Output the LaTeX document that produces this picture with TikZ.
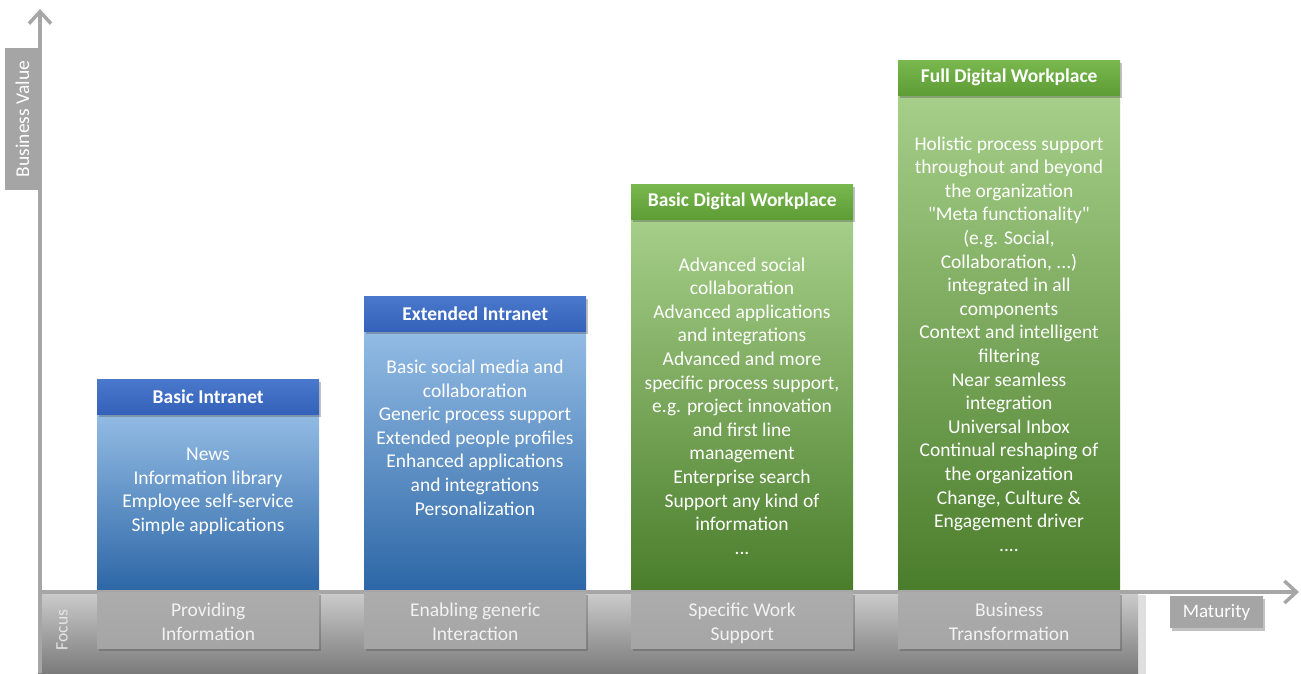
\documentclass[tikz,border=0pt]{standalone}
\usepackage{fontspec}
\setmainfont{Carlito}[Ligatures=TeXOff]
\usetikzlibrary{shadows,arrows.meta}
\definecolor{axisgray}{HTML}{A6A6A6}
\definecolor{boxgray}{HTML}{A5A5A5}
\definecolor{bluehtop}{HTML}{4A78CC}
\definecolor{bluehbot}{HTML}{3462BA}
\definecolor{bluetop}{HTML}{93BCE4}
\definecolor{bluebot}{HTML}{2C66A6}
\definecolor{greenhtop}{HTML}{78B84E}
\definecolor{greenhbot}{HTML}{5E9C35}
\definecolor{greentop}{HTML}{A6CF89}
\definecolor{greenbot}{HTML}{4A7D2B}
\tikzset{
  axisline/.style={draw=axisgray, line width=3.5pt, -{Straight Barb[length=12pt,width=22pt]}},
  lblbox/.style={fill=boxgray, text=white, inner sep=0pt, font=\fontsize{19.5}{23}\selectfont},
  shad/.style={drop shadow={shadow xshift=1.5pt, shadow yshift=-2.5pt, opacity=0.35, fill=black!70}},
  bluehead/.style={shad, anchor=north west, minimum width=222pt, minimum height=35pt, inner sep=0pt,
     top color=bluehtop, bottom color=bluehbot, text=white, font=\bfseries\fontsize{19.5}{23}\selectfont},
  greenhead/.style={bluehead, top color=greenhtop, bottom color=greenhbot},
  bluebody/.style={anchor=north west, minimum width=222pt, inner sep=0pt, top color=bluetop, bottom color=bluebot},
  greenbody/.style={bluebody, top color=greentop, bottom color=greenbot},
  bodytext/.style={text=white, align=center, inner sep=0pt, font=\fontsize{19.5}{23.6}\selectfont},
  focusbox/.style={shad, anchor=north west, minimum width=222pt, minimum height=56pt, inner sep=0pt,
     top color=boxgray!92!white, bottom color=boxgray},
  focustext/.style={text=white!95!black, align=center, inner sep=0pt, yshift=-3pt, font=\fontsize{19.5}{24}\selectfont},
}
\begin{document}
\begin{tikzpicture}[x=1pt,y=-1pt]
\useasboundingbox (0,0) rectangle (1301,673);
% focus bar
\node[anchor=north west, minimum width=1100pt, minimum height=81pt, inner sep=0pt,
      top color=black!20, bottom color=black!52,
      drop shadow={shadow xshift=8pt, shadow yshift=-3pt, opacity=0.25, fill=black!50}] (bar) at (38,592) {};
\node[rotate=90, text=white!90!black, font=\fontsize{17.5}{20}\selectfont] (focus) at (62,630) {Focus};
% columns
\node[bluebody, minimum height=179pt] (b1) at (97,413) {};
\node[bluebody, minimum height=262pt] (b2) at (364,330) {};
\node[greenbody, minimum height=373pt] (b3) at (631,219) {};
\node[greenbody, minimum height=497pt] (b4) at (898,95) {};
\node[bluehead] (h1) at (97,379) {Basic Intranet};
\node[bluehead] (h2) at (364,296) {Extended Intranet};
\node[greenhead] (h3) at (631,184) {Basic Digital Workplace};
\node[greenhead] (h4) at (898,60) {Full Digital Workplace};
\node[bodytext] (t1) at (208,491.5) {News\\Information library\\Employee self-service\\Simple applications};
\node[bodytext] (t2) at (475,437.5) {Basic social media and\\collaboration\\Generic process support\\Extended people profiles\\Enhanced applications\\and integrations\\Personalization};
\node[bodytext] (t3) at (742,406) {Advanced social\\collaboration\\Advanced applications\\and integrations\\Advanced and more\\specific process support,\\e.g. project innovation\\and first line\\management\\Enterprise search\\Support any kind of\\information\\...};
\node[bodytext] (t4) at (1009,344) {Holistic process support\\throughout and beyond\\the organization\\"Meta functionality"\\(e.g. Social,\\Collaboration, ...)\\integrated in all\\components\\Context and intelligent\\filtering\\Near seamless\\integration\\Universal Inbox\\Continual reshaping of\\the organization\\Change, Culture \&\\Engagement driver\\....};
% axes
\coordinate (origin) at (40,592);
\coordinate (ytip) at (40,9);
\coordinate (xtip) at (1299,592);
\coordinate (ybot) at (40,673);
\draw[draw=axisgray, line width=3.5pt] (origin) -- (ybot);
\draw[axisline] (origin) -- (ytip);
\draw[axisline] (38,592) -- (xtip);
% focus boxes
\node[focusbox] (f1) at (97,592) {};
\node[focusbox] (f2) at (364,592) {};
\node[focusbox] (f3) at (631,592) {};
\node[focusbox] (f4) at (898,592) {};
\node[focustext] (ft1) at (f1.center) {\strut Providing\\Information\strut};
\node[focustext] (ft2) at (f2.center) {\strut Enabling generic\\Interaction\strut};
\node[focustext] (ft3) at (f3.center) {\strut Specific Work\\Support\strut};
\node[focustext] (ft4) at (f4.center) {\strut Business\\Transformation\strut};
% labels
\node[lblbox, rotate=90, minimum width=142pt, minimum height=35pt] (bv) at (22.5,119) {Business Value};
\node[lblbox, shad, minimum width=93pt, minimum height=32pt, font=\fontsize{19}{22}\selectfont] (mat) at (1216.5,612) {Maturity};
\end{tikzpicture}
\end{document}
